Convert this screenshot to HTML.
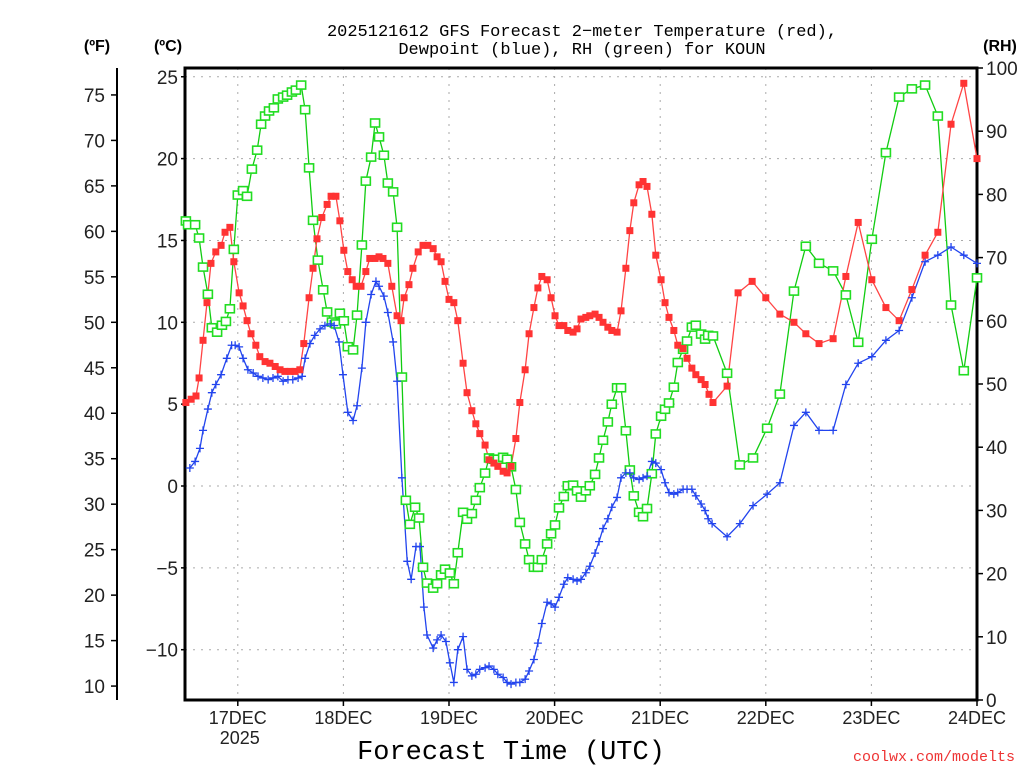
<!DOCTYPE html>
<html><head><meta charset="utf-8"><style>
body{margin:0;background:#fff;}
svg{display:block;}
text{font-family:"Liberation Mono",monospace;}
text.sans{font-family:"Liberation Sans",sans-serif;}
</style></head><body>
<svg id="chart" width="1024" height="768" viewBox="0 0 1024 768">
<text x="582" y="36" font-size="17" text-anchor="middle" fill="#000">2025121612 GFS Forecast 2−meter Temperature (red),</text>
<text x="582" y="54" font-size="17" text-anchor="middle" fill="#000">Dewpoint (blue), RH (green) for KOUN</text>
<text class="sans" x="97" y="51" font-size="16" font-weight="bold" text-anchor="middle">(ºF)</text>
<text class="sans" x="168" y="51" font-size="16" font-weight="bold" text-anchor="middle">(ºC)</text>
<text class="sans" x="1000" y="51" font-size="16" font-weight="bold" text-anchor="middle">(RH)</text>
<text x="511" y="759" font-size="27" text-anchor="middle" fill="#000">Forecast Time (UTC)</text>
<text x="1015" y="761" font-size="15" text-anchor="end" fill="#e33">coolwx.com/modelts</text>
<g id="grid"></g><g id="axes"></g><g id="series"></g>
</svg>
<script>
const tempHours=[0.2,1.4,2.5,3.2,4.1,5.0,5.9,7.0,8.2,9.1,10.2,11.1,12.3,13.2,14.1,15.0,16.1,17.0,18.2,19.3,20.5,21.6,22.7,23.9,25.0,26.1,27.0,28.2,29.1,30.0,31.1,32.3,33.2,34.3,35.2,36.1,37.0,38.0,38.9,40.0,41.1,42.0,43.2,44.1,45.0,46.1,47.0,48.2,49.1,49.8,50.9,51.8,53.0,54.1,55.2,56.4,57.3,58.2,59.1,60.0,61.1,62.0,63.2,64.1,65.2,66.1,67.0,68.2,69.1,70.2,71.1,72.3,73.2,74.1,75.2,76.1,77.3,78.2,79.3,80.2,81.1,82.3,83.2,84.1,85.0,86.1,87.0,88.2,89.1,90.0,91.1,92.0,93.2,94.1,95.0,96.1,97.0,98.2,99.1,100.2,101.1,102.0,103.2,104.1,105.0,106.1,107.0,108.2,109.1,110.0,111.1,112.0,113.2,114.1,115.2,116.1,117.3,118.2,119.1,120.0,123.2,125.7,128.9,132.0,135.2,138.4,141.1,144.1,147.3,150.2,153.0,156.1,159.3,162.3,165.2,168.2,171.1,174.1,177.0,180.0];
const tempC=[5.1,5.3,5.5,6.6,8.9,11.2,13.6,14.3,14.7,15.5,15.8,13.7,11.8,11.0,10.1,9.3,8.6,7.9,7.6,7.5,7.3,7.1,7.0,7.0,7.0,7.1,8.7,11.5,13.3,15.1,16.4,17.2,17.7,17.7,16.2,14.4,13.1,12.6,12.2,12.2,13.1,13.9,13.9,14.0,13.9,13.6,12.2,10.4,10.1,11.5,12.3,13.3,14.3,14.7,14.7,14.5,14.0,13.7,12.5,11.4,11.2,10.1,7.5,5.7,4.6,3.8,3.2,2.5,1.6,1.4,1.2,0.9,0.8,1.2,2.9,5.1,7.1,9.3,10.9,12.1,12.8,12.6,11.5,10.4,9.8,9.8,9.5,9.4,9.6,10.2,10.3,10.4,10.5,10.3,10.0,9.7,9.5,9.4,10.7,13.3,15.6,17.3,18.4,18.6,18.3,16.6,14.1,12.6,11.2,10.3,9.5,8.6,8.4,7.8,7.2,6.8,6.5,6.2,5.6,5.1,6.1,11.8,12.5,11.5,10.5,10.0,9.3,8.7,9.0,12.8,16.1,12.6,10.9,10.1,12.0,14.1,15.5,22.1,24.6,20.0];
const dewHours=[1.1,2.3,3.4,4.1,5.2,6.1,7.0,8.2,9.5,10.6,11.4,12.3,13.2,14.3,15.5,16.6,17.7,18.9,20.0,21.1,22.3,23.4,24.5,25.7,26.6,27.3,28.4,29.5,30.7,31.8,33.0,33.9,35.0,35.9,37.0,38.2,39.1,40.2,41.1,42.3,43.4,44.1,45.2,46.1,47.3,48.2,49.3,50.5,51.4,52.5,53.4,54.3,55.0,56.4,57.3,58.2,59.3,60.2,61.1,62.0,63.2,64.1,65.2,66.1,67.0,68.2,69.1,70.2,71.1,72.3,73.2,74.1,75.2,76.1,77.3,78.2,79.3,80.2,81.1,82.3,83.2,84.1,85.0,86.1,87.0,88.2,89.1,90.0,91.1,92.0,93.2,94.1,95.0,96.1,97.0,98.2,99.1,100.2,101.1,102.0,103.2,104.1,105.0,106.1,107.0,108.2,109.1,110.0,111.1,112.0,113.2,114.1,115.2,116.1,117.3,118.2,118.9,119.8,123.2,126.1,129.1,132.3,135.2,138.4,141.1,144.1,147.3,150.2,153.0,156.1,159.3,162.3,165.2,168.2,171.1,174.1,177.0,180.0];
const dewC=[1.1,1.5,2.3,3.4,4.7,5.7,6.2,6.8,7.8,8.6,8.6,8.5,7.8,7.1,6.9,6.7,6.6,6.5,6.6,6.7,6.4,6.5,6.5,6.6,6.7,7.8,8.7,9.2,9.6,9.8,9.9,9.8,8.8,6.8,4.5,4.0,4.9,7.2,10.0,11.7,12.5,12.2,11.6,10.6,8.8,6.4,0.5,-4.6,-5.7,-3.7,-3.7,-7.4,-9.1,-9.9,-9.4,-9.1,-9.5,-10.8,-12.0,-10.0,-9.2,-11.2,-11.6,-11.5,-11.2,-11.1,-11.0,-11.2,-11.5,-11.7,-12.0,-12.1,-12.0,-12.0,-11.8,-11.3,-10.6,-9.6,-8.4,-7.1,-7.2,-7.4,-6.8,-6.0,-5.6,-5.7,-5.8,-5.7,-5.3,-4.9,-4.1,-3.4,-2.6,-2.0,-1.3,-0.7,0.5,0.8,0.8,0.5,0.4,0.5,0.6,1.5,1.4,1.0,0.2,-0.4,-0.5,-0.4,-0.2,-0.2,-0.2,-0.6,-1.1,-1.5,-2.0,-2.3,-3.1,-2.3,-1.2,-0.5,0.2,3.7,4.5,3.4,3.4,6.2,7.5,7.9,8.9,9.5,11.5,13.7,14.1,14.6,14.1,13.6];
const rhHours=[0.2,0.7,2.3,3.2,4.1,5.2,6.1,7.3,8.4,9.3,10.2,11.1,12.0,13.2,14.1,15.2,16.4,17.3,18.2,19.1,20.2,21.1,22.3,23.2,24.3,25.2,26.4,27.3,28.2,29.1,30.2,31.4,32.3,33.4,34.3,35.2,36.1,37.0,38.2,39.1,40.2,41.1,42.3,43.2,44.1,45.2,46.1,47.3,48.2,49.3,50.2,51.1,52.3,53.2,54.1,55.0,56.4,57.3,58.2,59.1,60.2,61.1,62.0,63.2,64.1,65.2,66.1,67.0,68.2,69.1,70.2,71.1,72.3,73.2,74.1,75.2,76.1,77.3,78.2,79.3,80.2,81.1,82.3,83.2,84.1,85.0,86.1,87.0,88.2,89.1,90.0,91.1,92.0,93.2,94.1,95.0,96.1,97.0,98.2,99.1,100.2,101.1,102.0,103.2,104.1,105.0,106.1,107.0,108.2,109.1,110.0,111.1,112.0,113.2,114.1,115.2,116.1,117.3,118.2,118.9,120.0,123.2,126.1,129.1,132.3,135.2,138.4,141.1,144.1,147.3,150.2,153.0,156.1,159.3,162.3,165.2,168.2,171.1,174.1,177.0,180.0];
const rhPct=[75.8,75.2,75.2,73.1,68.5,64.2,58.9,58.2,59.3,59.9,61.9,71.3,79.9,80.6,79.7,84.0,87.0,91.1,92.4,93.2,93.7,95.1,95.4,95.7,96.2,96.5,97.3,93.4,84.2,75.9,69.6,64.9,61.4,59.8,59.5,61.2,60.0,55.9,55.4,60.9,72.0,82.1,85.9,91.3,89.1,86.2,81.8,80.4,74.8,51.1,31.6,27.8,30.5,28.8,21.0,18.5,17.7,18.4,19.8,20.7,20.1,18.4,23.3,29.7,28.6,29.5,31.6,33.6,35.9,38.3,38.1,38.1,38.4,38.1,36.9,33.3,28.1,24.7,22.2,21.0,21.0,22.2,24.7,26.3,27.7,30.4,32.2,33.9,34.0,33.1,32.1,33.1,33.9,35.7,38.3,41.1,44.0,46.8,49.4,49.4,42.6,36.4,32.3,29.7,29.0,30.3,35.8,42.1,44.9,46.0,47.0,49.5,53.4,55.5,56.8,59.0,59.3,57.9,57.1,57.7,57.6,51.7,37.2,38.3,43.0,48.4,64.7,71.8,69.1,67.9,64.1,56.6,72.9,86.6,95.4,96.7,97.3,92.4,62.5,52.1,66.8];
const dayLabels=["17DEC","18DEC","19DEC","20DEC","21DEC","22DEC","23DEC","24DEC"];
const cTicks=[25,20,15,10,5,0,-5,-10];
const fTicks=[75,70,65,60,55,50,45,40,35,30,25,20,15,10];
const rhTicks=[100,90,80,70,60,50,40,30,20,10,0];

const NS="http://www.w3.org/2000/svg";
const L=185,R=977,T=68,B=700;
const xH=h=>L+h*(R-L)/180;
const yC=c=>486-c*16.37;
const yF=f=>yC((f-32)*5/9);
const yRH=r=>B-r*(B-T)/100;
function mk(parent,tag,attrs){const e=document.createElementNS(NS,tag);for(const k in attrs)e.setAttribute(k,attrs[k]);parent.appendChild(e);return e;}
const grid=document.getElementById('grid'),axes=document.getElementById('axes'),ser=document.getElementById('series');

cTicks.forEach(c=>{
  const y=yC(c);
  const g=mk(grid,'line',{x1:L,x2:R,y1:y,y2:y,stroke:'#aaa','stroke-width':1,'stroke-dasharray':'2,6'});
  
  
  const t=mk(axes,'line',{x1:L-4,x2:L,y1:y,y2:y,stroke:'#000','stroke-width':1.5});
  
  
  const tx=mk(axes,'text',{class:'sans',x:L-7,y:y+7,'font-size':19,'text-anchor':'end',fill:'#222'});
  tx.textContent=(c<0?'−':'')+Math.abs(c);
  
  
});
fTicks.forEach(f=>{
  const y=yF(f);
  const t=mk(axes,'line',{x1:111,x2:117,y1:y,y2:y,stroke:'#000','stroke-width':1.5});
  
  
  const tx=mk(axes,'text',{class:'sans',x:105,y:y+7,'font-size':19,'text-anchor':'end',fill:'#222'});
  tx.textContent=f;
  
  
});
rhTicks.forEach(r=>{
  const y=yRH(r);
  const t=mk(axes,'line',{x1:R,x2:R+6,y1:y,y2:y,stroke:'#000','stroke-width':1.5});
  
  
  const tx=mk(axes,'text',{class:'sans',x:R+9,y:y+7,'font-size':19,'text-anchor':'start',fill:'#222'});
  tx.textContent=r;
  
  
});
dayLabels.forEach((d,i)=>{
  const x=xH(12+24*i);
  if(i<dayLabels.length-1){
    const g=mk(grid,'line',{x1:x,x2:x,y1:T,y2:B,stroke:'#aaa','stroke-width':1,'stroke-dasharray':'2,6'});
    
    
  }
  const t=mk(axes,'line',{x1:x,x2:x,y1:B,y2:B+6,stroke:'#000','stroke-width':1.5});
  
  
  const tx=mk(axes,'text',{class:'sans',x:x,y:B+24,'font-size':18,'text-anchor':'middle',fill:'#222'});
  tx.textContent=d;
  
  
});
const yr=mk(axes,'text',{class:'sans',x:xH(12)+2,y:B+44,'font-size':18,'text-anchor':'middle',fill:'#222'});
yr.textContent='2025';


const frame=mk(axes,'path',{d:`M${L},${T}H${R}V${B}H${L}Z`,fill:'none',stroke:'#000','stroke-width':3});


const fax=mk(axes,'line',{x1:117,x2:117,y1:T,y2:B,stroke:'#000','stroke-width':2});



function line(hs,vs,yf,color,name){
  const p=mk(ser,'polyline',{points:hs.map((h,i)=>xH(h)+','+yf(vs[i])).join(' '),fill:'none',stroke:color,'stroke-width':1.3});
  
  
}
line(rhHours,rhPct,yRH,'#1c1','rh-line');
line(dewHours,dewC,yC,'#24e','dewpoint-line');
line(tempHours,tempC,yC,'#f44','temperature-line');
rhHours.forEach((h,i)=>{
  const m=mk(ser,'rect',{x:xH(h)-4.5,y:yRH(rhPct[i])-4,width:9,height:8,fill:'#fff',stroke:'#2d2','stroke-width':1.6});
  
  
});
dewHours.forEach((h,i)=>{
  const x=xH(h),y=yC(dewC[i]);
  const m=mk(ser,'path',{d:`M${x-4},${y}H${x+4}M${x},${y-4}V${y+4}`,stroke:'#24e','stroke-width':1.3});
  
  
});
tempHours.forEach((h,i)=>{
  const m=mk(ser,'rect',{x:xH(h)-3.5,y:yC(tempC[i])-3.5,width:7,height:7,fill:'#f33'});
  
  
});
</script>
</body></html>
